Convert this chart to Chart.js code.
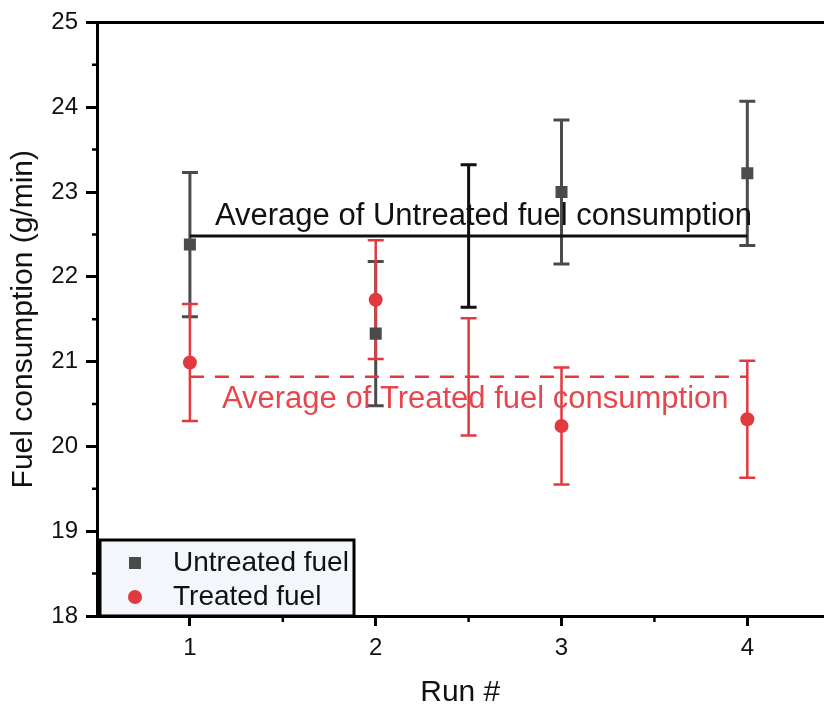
<!DOCTYPE html>
<html>
<head>
<meta charset="utf-8">
<script src="https://cdn.jsdelivr.net/npm/chart.js@4/dist/chart.umd.min.js"></script>
<style>
  html, body { margin: 0; padding: 0; background: #ffffff; overflow: hidden; }
  #wrap { width: 832px; height: 709px; position: relative; }
</style>
</head>
<body>
<div id="wrap"><canvas id="c" width="832" height="709"></canvas></div>
<script>
// ---- data ----
const runs = [1, 2, 3, 4];
const untreated = [22.38, 21.33, 23.00, 23.22];
const untreatedErr = [0.85, 0.85, 0.85, 0.85];
const treated = [20.99, 21.73, 20.24, 20.32];
const treatedErr = [0.69, 0.70, 0.69, 0.69];
const avgRange = [1, 4];          // x-extent of the average lines
const avgErrRun = 2.5;            // where the average error bars sit
const avgUntreated = 22.48;
const avgUntreatedErr = 0.84;
const avgTreated = 20.82;
const avgTreatedErr = 0.69;
const xTicks = [1, 2, 3, 4];
const xMinorTicks = [1.5, 2.5, 3.5];
const yTicks = [18, 19, 20, 21, 22, 23, 24, 25];
const yMinorTicks = [18.5, 19.5, 20.5, 21.5, 22.5, 23.5, 24.5];
const seriesNames = ['Untreated fuel', 'Treated fuel'];
const avgLabels = ['Average of Untreated fuel consumption', 'Average of Treated fuel consumption'];
const xTitle = 'Run #';
const yTitle = 'Fuel consumption (g/min)';

const GRAY = '#4b4b4b';
const RED = '#e2393f';
const RED_TEXT = '#e6474d';
const FONT = "'Liberation Sans', Arial, sans-serif";

const extrasPlugin = {
  id: 'extras',
  beforeDatasetsDraw(chart) {
    const ctx = chart.ctx;
    const xs = chart.scales.x, ys = chart.scales.y;
    function bar(xv, yv, err, color, w) {
      const px = xs.getPixelForValue(xv);
      const top = ys.getPixelForValue(yv + err);
      const bot = ys.getPixelForValue(yv - err);
      const cap = 8;
      ctx.save();
      ctx.strokeStyle = color;
      ctx.lineWidth = w;
      ctx.beginPath();
      ctx.moveTo(px, top); ctx.lineTo(px, bot);
      ctx.moveTo(px - cap, top); ctx.lineTo(px + cap, top);
      ctx.moveTo(px - cap, bot); ctx.lineTo(px + cap, bot);
      ctx.stroke();
      ctx.restore();
    }
    runs.forEach((r, i) => bar(r, untreated[i], untreatedErr[i], GRAY, 3));
    runs.forEach((r, i) => bar(r, treated[i], treatedErr[i], RED, 2.5));
    bar(avgErrRun, avgUntreated, avgUntreatedErr, '#111111', 3);
    bar(avgErrRun, avgTreated, avgTreatedErr, RED, 2.5);
  },
  afterDatasetsDraw(chart) {
    const ctx = chart.ctx;
    const xs = chart.scales.x, ys = chart.scales.y;
    const area = chart.chartArea;
    ctx.save();
    // average labels
    ctx.font = '31px ' + FONT;
    ctx.textAlign = 'left';
    ctx.textBaseline = 'alphabetic';
    ctx.fillStyle = '#111111';
    ctx.fillText(avgLabels[0], xs.getPixelForValue(avgRange[0]) + 25, ys.getPixelForValue(avgUntreated) - 11);
    ctx.fillStyle = RED_TEXT;
    ctx.fillText(avgLabels[1], xs.getPixelForValue(avgRange[0]) + 32, ys.getPixelForValue(avgTreated) + 31);

    // minor ticks
    ctx.strokeStyle = '#000';
    ctx.lineWidth = 2.5;
    ctx.beginPath();
    yMinorTicks.forEach(v => {
      const py = ys.getPixelForValue(v);
      ctx.moveTo(area.left - 5, py); ctx.lineTo(area.left, py);
    });
    xMinorTicks.forEach(v => {
      const px = xs.getPixelForValue(v);
      ctx.moveTo(px, area.bottom); ctx.lineTo(px, area.bottom + 6);
    });
    ctx.stroke();

    // legend box
    const lx = area.left + 3, lw = 254, lh = 76;
    const ly = area.bottom - lh;
    ctx.fillStyle = '#f3f7fb';
    ctx.fillRect(lx, ly, lw, lh);
    ctx.lineWidth = 3;
    ctx.strokeStyle = '#000';
    ctx.strokeRect(lx, ly, lw, lh);
    const r1 = ly + 23, r2 = ly + 57;
    ctx.fillStyle = GRAY;
    ctx.fillRect(lx + 29, r1 - 6, 12, 12);
    ctx.fillStyle = RED;
    ctx.beginPath(); ctx.arc(lx + 35, r2, 7, 0, Math.PI * 2); ctx.fill();
    ctx.fillStyle = '#111';
    ctx.font = '28px ' + FONT;
    ctx.textBaseline = 'middle';
    ctx.fillText(seriesNames[0], lx + 73, r1);
    ctx.fillText(seriesNames[1], lx + 73, r2);
    ctx.restore();
  }
};

const chart = new Chart(document.getElementById('c'), {
  type: 'scatter',
  data: {
    datasets: [
      {
        label: seriesNames[0],
        data: runs.map((r, i) => ({ x: r, y: untreated[i] })),
        pointStyle: 'rect',
        pointRadius: 8.5,
        backgroundColor: GRAY,
        borderColor: GRAY,
        borderWidth: 0,
        order: 1
      },
      {
        label: seriesNames[1],
        data: runs.map((r, i) => ({ x: r, y: treated[i] })),
        pointStyle: 'circle',
        pointRadius: 7,
        backgroundColor: RED,
        borderColor: RED,
        borderWidth: 0,
        order: 0
      },
      {
        type: 'line',
        label: avgLabels[0],
        data: avgRange.map(x => ({ x: x, y: avgUntreated })),
        borderColor: '#111111',
        borderWidth: 3,
        pointRadius: 0,
        fill: false,
        order: 2
      },
      {
        type: 'line',
        label: avgLabels[1],
        data: avgRange.map(x => ({ x: x, y: avgTreated })),
        borderColor: RED,
        borderWidth: 2.5,
        borderDash: [14, 11],
        pointRadius: 0,
        fill: false,
        order: 2
      }
    ]
  },
  options: {
    responsive: false,
    animation: false,
    layout: { padding: 0 },
    plugins: { legend: { display: false }, tooltip: { enabled: false } },
    scales: {
      x: {
        type: 'linear',
        position: 'bottom',
        min: 0.5,
        max: 4.41,
        afterBuildTicks: s => { s.ticks = xTicks.map(v => ({ value: v })); },
        afterFit: s => { s.height = 93; },
        ticks: { color: '#111', font: { family: FONT, size: 24 }, padding: 8, maxRotation: 0 },
        grid: { display: true, drawOnChartArea: false, drawTicks: true, tickLength: 10, tickWidth: 3, tickColor: '#000' },
        border: { display: true, color: '#000', width: 3 },
        title: { display: true, text: xTitle, color: '#111', font: { family: FONT, size: 30, lineHeight: 1 }, padding: { top: 0, bottom: 1 } }
      },
      x2: {
        type: 'linear',
        position: 'top',
        min: 0.5,
        max: 4.41,
        afterFit: s => { s.height = 20; },
        ticks: { display: false },
        grid: { display: false, drawTicks: false },
        border: { display: true, color: '#000', width: 3 }
      },
      y: {
        type: 'linear',
        position: 'left',
        min: 18,
        max: 25,
        afterBuildTicks: s => { s.ticks = yTicks.map(v => ({ value: v })); },
        afterFit: s => { s.width = 97; },
        ticks: { color: '#111', font: { family: FONT, size: 24 }, padding: 8 },
        grid: { display: true, drawOnChartArea: false, drawTicks: true, tickLength: 11, tickWidth: 3, tickColor: '#000' },
        border: { display: true, color: '#000', width: 3 },
        title: { display: true, text: yTitle, color: '#111', font: { family: FONT, size: 30, lineHeight: 1 }, padding: { top: 9, bottom: 0 } }
      }
    }
  },
  plugins: [extrasPlugin]
});
</script>
</body>
</html>
